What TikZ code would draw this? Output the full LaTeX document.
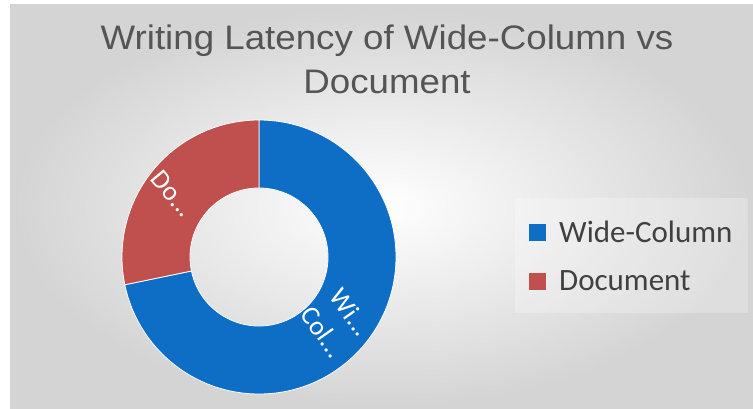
\documentclass[tikz,border=0pt]{standalone}
\usepackage{fontspec}
\setmainfont{Carlito}
\newfontfamily\titlefont[FakeStretch=1.08]{Liberation Sans}
\usetikzlibrary{calc}
\definecolor{wcblue}{HTML}{0E6EC6}
\definecolor{docred}{HTML}{C0504D}
\definecolor{titlegrey}{HTML}{555555}
\definecolor{legendgrey}{HTML}{404040}
\tikzset{
  slicelabel/.style={text=white, font=\fontsize{27}{34}\selectfont, align=center, inner sep=0pt},
  legendtext/.style={text=legendgrey, font=\fontsize{31}{32}\selectfont, anchor=west, inner sep=0pt},
  legendkey/.style={minimum size=17pt, inner sep=0pt},
  titletext/.style={text=titlegrey, font=\titlefont\fontsize{34}{40}\selectfont, anchor=base, inner sep=0pt},
}
\begin{document}
\begin{tikzpicture}[x=1pt,y=1pt]
  % canvas and chart area
  \useasboundingbox (0,0) rectangle (753,408);
  \fill[white] (0,0) rectangle (753,408);
  \shade[inner color=white, outer color=black!17] (10,0) rectangle (753,403);
  \fill[white, opacity=0.25] (515,95) rectangle (748,210);

  % title, two centred lines
  \node[titletext] (title1) at (387,358) {Writing Latency of Wide-Column vs};
  \node[titletext] (title2) at (387,315) {Document};

  % doughnut
  \coordinate (c) at (259,151);
  \def\split{191.7}
  \fill[wcblue, draw=white, line width=0.8pt]
    ($(c)+(90:137)$) arc[start angle=90, end angle=\split-360, radius=137]
    -- ($(c)+(\split:69)$) arc[start angle=\split-360, end angle=90, radius=69] -- cycle;
  \fill[docred, draw=white, line width=0.8pt]
    ($(c)+(90:137)$) arc[start angle=90, end angle=\split, radius=137]
    -- ($(c)+(\split:69)$) arc[start angle=\split, end angle=90, radius=69] -- cycle;

  % slice labels
  \node[slicelabel, rotate=-55] (wclabel) at (337,86) {Wi...\\Col...};
  \node[slicelabel, rotate=-50] (doclabel) at (173,214) {Do...};

  % legend
  \node[legendkey, fill=wcblue] (k1) at (537,176) {};
  \node[legendtext] (t1) at (559,176) {Wide-Column};
  \node[legendkey, fill=docred] (k2) at (537,127) {};
  \node[legendtext] (t2) at (559,127) {Document};
\end{tikzpicture}
\end{document}
